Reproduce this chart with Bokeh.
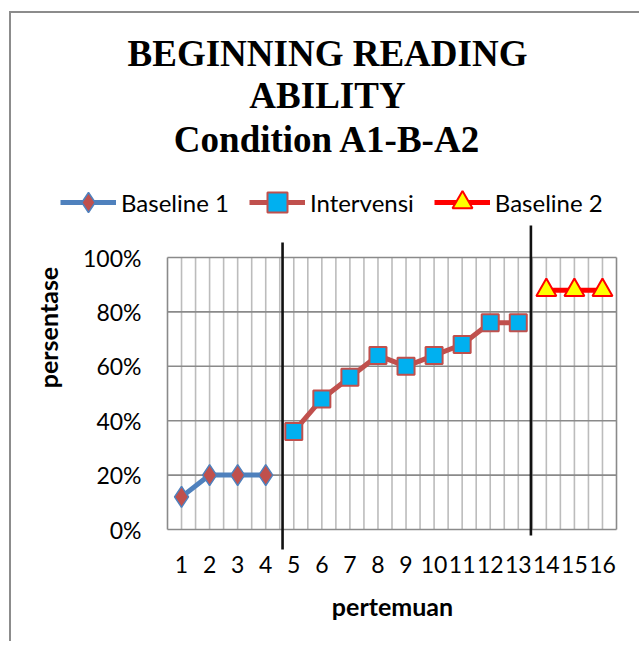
import math
from bokeh.plotting import figure
from bokeh.models import (Range1d, FixedTicker, Label, Legend, LegendItem)
from bokeh.embed import file_html
from bokeh.resources import INLINE

# ---- data ----
sessions = list(range(1, 17))
tick_labels = [str(s) for s in sessions]
baseline1_x = [1, 2, 3, 4]
baseline1 = [0.12, 0.20, 0.20, 0.20]
intervensi_x = [5, 6, 7, 8, 9, 10, 11, 12, 13]
intervensi = [0.36, 0.48, 0.56, 0.64, 0.60, 0.64, 0.68, 0.76, 0.76]
baseline2_x = [14, 15, 16]
baseline2 = [0.88, 0.88, 0.88]
y_ticks = [0, 0.2, 0.4, 0.6, 0.8, 1.0]
y_tick_labels = ["0%", "20%", "40%", "60%", "80%", "100%"]
title_lines = ["BEGINNING READING", "ABILITY", "Condition A1-B-A2"]

# ---- layout constants (page pixels) ----
ORIGIN_X, ORIGIN_Y = 11, 13          # canvas origin on the page
CANVAS_W, CANVAS_H = 628, 628
PLOT_L, PLOT_R, PLOT_T, PLOT_B = 167, 616, 257, 529   # 0.5..16.5 / 100%..0%
PX_PER_X = (PLOT_R - PLOT_L) / 16.0
PX_PER_Y = (PLOT_B - PLOT_T) / 1.0
X0 = 0.5 - (PLOT_L - ORIGIN_X) / PX_PER_X
X1 = X0 + CANVAS_W / PX_PER_X
Y1 = (PLOT_B - ORIGIN_Y) / PX_PER_Y
Y0 = Y1 - CANVAS_H / PX_PER_Y


def px2x(px):
    return 0.5 + (px - PLOT_L) / PX_PER_X


def px2y(py):
    return (PLOT_B - py) / PX_PER_Y


p = figure(frame_width=CANVAS_W, frame_height=CANVAS_H,
           min_border_left=0, min_border_top=0,
           min_border_right=0, min_border_bottom=0,
           x_range=Range1d(X0, X1), y_range=Range1d(Y0, Y1),
           output_backend="svg", toolbar_location=None,
           background_fill_color="white", border_fill_color="white")
p.styles = {"margin": "11px 0 0 9px", "border-left": "2px solid #8c8c8c",
            "border-top": "2px solid #8c8c8c"}
p.outline_line_color = None
p.xgrid.visible = False
p.ygrid.visible = False

# ---- axes ----
p.xaxis.ticker = FixedTicker(ticks=sessions)
p.xaxis.major_label_overrides = {s: l for s, l in zip(sessions, tick_labels)}
p.yaxis.ticker = FixedTicker(ticks=y_ticks)
p.yaxis.major_label_overrides = {t: l for t, l in zip(y_ticks, y_tick_labels)}
p.xaxis.fixed_location = px2y(549)
p.yaxis.fixed_location = 0.5
for ax in (p.xaxis[0], p.yaxis[0]):
    ax.axis_line_color = None
    ax.major_tick_line_color = None
    ax.minor_tick_line_color = None
    ax.major_label_text_font = "Lato"
    ax.major_label_text_font_size = "23px"
    ax.major_label_text_color = "#000000"
p.xaxis.major_label_standoff = 0
p.yaxis.major_label_standoff = 20

# ---- grid (drawn only over 0..100%) ----
vgrid = [0.5 + 0.5 * i for i in range(33)]
p.segment(x0=vgrid[1:-1], y0=[0] * 31, x1=vgrid[1:-1], y1=[1] * 31,
          line_color="#bcbcbc", line_width=1.6)
p.segment(x0=[0.5, 16.5], y0=[0, 0], x1=[0.5, 16.5], y1=[1, 1],
          line_color="#8a8a8a", line_width=1.6)
p.segment(x0=[0.5] * 6, y0=y_ticks, x1=[16.5] * 6, y1=y_ticks,
          line_color="#8a8a8a", line_width=1.6)

# ---- phase change lines ----
p.segment(x0=[4.6, 13.45], y0=[px2y(549), px2y(535)],
          x1=[4.6, 13.45], y1=[px2y(242), px2y(225)],
          line_color="#111111", line_width=2.6)

# ---- series ----
l1 = p.line(baseline1_x, baseline1, line_color="#4F81BD", line_width=5)
m1 = p.scatter(baseline1_x, baseline1, marker="diamond", size=21,
               fill_color="#C0504D", line_color="#4F81BD", line_width=1.5)
l2 = p.line(intervensi_x, intervensi, line_color="#C0504D", line_width=5)
m2 = p.scatter(intervensi_x, intervensi, marker="square", size=17,
               fill_color="#00B0F0", line_color="#C0504D", line_width=2)
l3 = p.line(baseline2_x, baseline2, line_color="#FF0000", line_width=5)
m3 = p.scatter(baseline2_x, baseline2, marker="triangle", size=20,
               fill_color="#FFFF00", line_color="#FF0000", line_width=2)

LEG_H = 50
legend = Legend(items=[LegendItem(label="Baseline 1", renderers=[l1, m1]),
                       LegendItem(label="Intervensi", renderers=[l2, m2]),
                       LegendItem(label="Baseline 2", renderers=[l3, m3])],
                orientation="horizontal",
                location=(60 - ORIGIN_X, ORIGIN_Y + CANVAS_H - (202 + LEG_H // 2)),
                glyph_width=56, glyph_height=LEG_H, label_standoff=5, spacing=20,
                padding=0, margin=0, border_line_color=None,
                background_fill_alpha=0,
                label_text_font="Lato", label_text_font_size="24px",
                label_text_color="#000000")
p.add_layout(legend, "center")

# ---- titles ----
for txt, base in zip(title_lines, [66, 108, 152]):
    p.add_layout(Label(x=px2x(327), y=px2y(base - 13), text=txt,
                       text_align="center", text_baseline="alphabetic",
                       text_font="Liberation Serif", text_font_style="bold",
                       text_font_size="37px", text_color="#000000"))

p.add_layout(Label(x=px2x(47), y=px2y(327), text="persentase", angle=math.pi / 2,
                   text_align="center", text_baseline="middle",
                   text_font="Lato", text_font_style="bold",
                   text_font_size="25px", text_color="#000000"))
p.add_layout(Label(x=px2x(392), y=px2y(605), text="pertemuan",
                   text_align="center", text_baseline="middle",
                   text_font="Lato", text_font_style="bold",
                   text_font_size="25px", text_color="#000000"))

open("out.html", "w").write(file_html(p, INLINE))
